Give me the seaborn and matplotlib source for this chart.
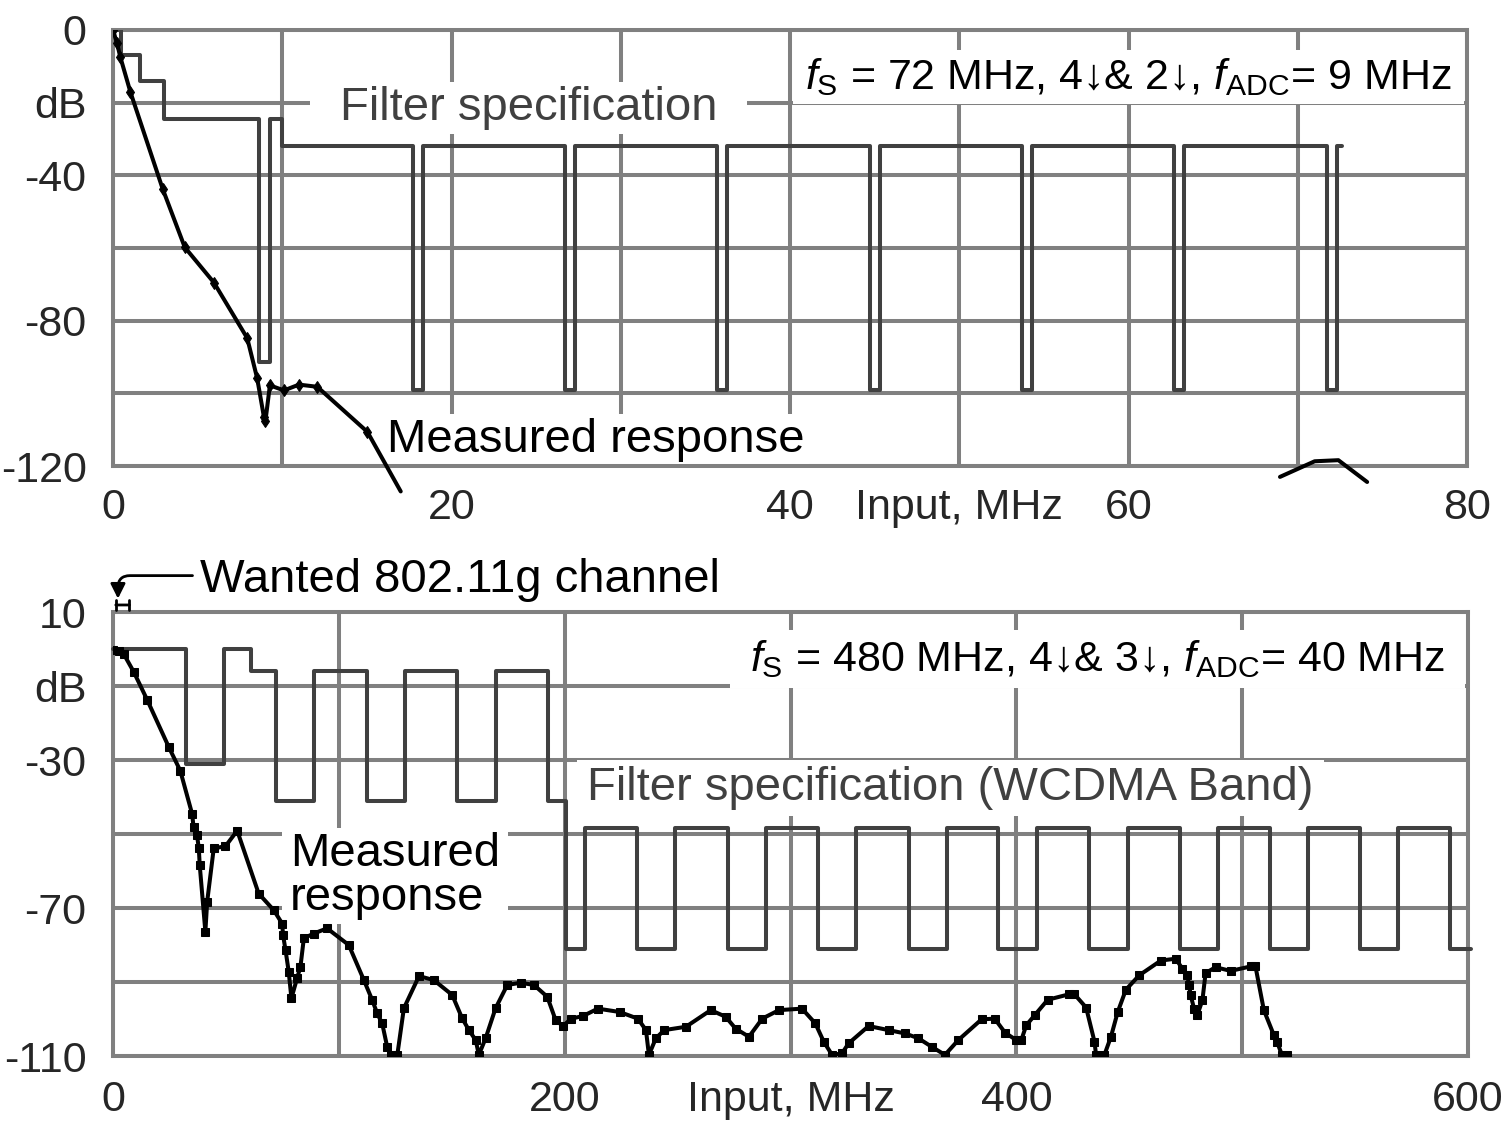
import seaborn as sns
import matplotlib.pyplot as plt

sns.set_style("white")
plt.rcParams['font.family'] = ['Liberation Sans', 'DejaVu Sans']
plt.rcParams['mathtext.fontset'] = 'custom'
plt.rcParams['mathtext.rm'] = 'Liberation Sans'
plt.rcParams['mathtext.it'] = 'Liberation Sans:italic'

GRID = '#808080'
SPEC = '#404040'

# ---- top panel data (fs = 72 MHz) ----
top_spec_edges = [0, 0.5, 1.6, 3.0, 8.65, 9.25, 10.0, 17.75, 18.3, 26.7, 27.3, 35.7, 36.3,
                  44.7, 45.3, 53.7, 54.3, 62.7, 63.3, 71.7, 72.3, 72.6]
top_spec_levels = [0, -7, -14, -24.5, -91.5, -24.5, -32, -99, -32, -99, -32, -99, -32,
                   -99, -32, -99, -32, -99, -32, -99, -32, -32]

top_meas_x = [0.0, 0.24, 0.43, 1.03, 2.94, 4.24, 5.96, 7.93, 8.52, 8.92, 9.01, 9.27,
              10.1, 10.99, 12.07, 15.03]
top_meas_y = [0, -3.7, -7.4, -17.1, -43.8, -59.8, -69.5, -84.8, -95.9, -106.6, -107.5, -97.8,
              -99.2, -97.6, -98.2, -110.6]
top_end_x = [15.03, 17.0]
top_end_y = [-110.6, -127.0]
top_tail_x = [68.95, 71.0, 72.4, 74.1]
top_tail_y = [-123.0, -118.7, -118.4, -124.4]

top_xticks = [0, 10, 20, 30, 40, 50, 60, 70, 80]
top_xlabels = ['0', '', '20', '', '40', 'Input, MHz', '60', '', '80']
top_yticks = [0, -20, -40, -60, -80, -100, -120]
top_ylabels = ['0', 'dB', '-40', '', '-80', '', '-120']

# ---- bottom panel data (fs = 480 MHz) ----
bot_spec_edges = [0, 32.5, 49, 61, 72.2, 89.2, 112.4, 129.4, 152.4, 169.4, 192.4, 200.8,
                  209, 232, 249, 272.5, 289, 312.3, 329, 352.3, 369.4, 392, 409.2, 432,
                  449.6, 472.4, 489.5, 512.3, 529.3, 552.1, 569.2, 592, 601.4]
bot_spec_levels = [0, -31, 0, -6, -41, -6, -41, -6, -41, -6, -41, -81,
                   -48.5, -81, -48.5, -81, -48.5, -81, -48.5, -81, -48.5, -81, -48.5, -81,
                   -48.5, -81, -48.5, -81, -48.5, -81, -48.5, -81, -81]

bot_meas_x = [0, 2.5, 4.7, 9.2, 15.1, 24.7, 29.8, 35.0, 35.7, 37.2, 38.0, 38.4, 40.9, 41.7,
              44.6, 49.8, 55.0, 64.5, 71.2, 74.9, 75.3, 76.4, 77.8, 79.0, 81.5, 83.0, 84.5,
              88.9, 94.8, 104.4, 111.1, 114.8, 117.0, 119.2, 121.4, 122.9, 125.9, 128.8,
              135.5, 142.1, 150.2, 154.6, 157.6, 160.6, 162.0, 165.0, 169.4, 174.6, 180.5,
              186.4, 192.3, 196.0, 199.3, 202.9, 208.1, 214.7, 224.3, 232.4, 236.0, 237.3,
              240.4, 244.1, 253.7, 264.7, 271.3, 275.7, 281.6, 287.5, 294.9, 305.1, 311.0,
              314.7, 318.4, 322.8, 325.7, 334.6, 343.4, 350.7, 356.6, 362.5, 368.4, 374.3,
              384.6, 390.4, 395.0, 400.0, 402.2, 404.4, 408.1, 413.9, 423.5, 425.7, 430.9,
              434.6, 435.3, 439.0, 441.9, 444.9, 448.5, 454.4, 464.0, 470.6, 473.5, 475.7,
              476.5, 477.2, 478.7, 480.1, 482.4, 483.8, 488.2, 494.9, 503.7, 505.9, 509.6,
              514.0, 515.4, 517.6, 519.9]
bot_meas_y = [-0.2, -0.5, -1.3, -6.2, -13.7, -26.5, -32.9, -44.5, -48.2, -50.3, -53.9, -58.4,
              -76.4, -68.3, -53.9, -53.3, -49.1, -66.1, -70.6, -74.2, -77.3, -81.4, -87.2,
              -94.4, -89.0, -85.9, -78.2, -76.9, -75.5, -80.0, -89.5, -94.9, -98.5, -101.2,
              -107.5, -109.7, -109.7, -97.1, -88.4, -89.5, -93.5, -99.8, -103.0, -105.7,
              -109.7, -105.2, -97.1, -90.8, -90.2, -90.8, -94.0, -100.3, -101.9, -99.9, -99.2,
              -97.2, -98.1, -99.9, -103.0, -109.7, -105.2, -103.0, -102.1, -97.6, -99.4,
              -102.6, -104.8, -99.9, -97.6, -97.2, -101.2, -106.1, -109.7, -109.3, -106.6,
              -101.9, -103.0, -103.9, -105.2, -107.5, -109.7, -105.7, -100.1, -99.9, -103.7,
              -105.7, -105.7, -101.7, -99.0, -94.8, -93.3, -93.3, -96.9, -106.1, -109.7,
              -109.7, -104.8, -98.1, -92.1, -88.2, -84.2, -83.7, -86.4, -88.2, -90.9, -93.6,
              -97.2, -99.0, -94.9, -87.6, -86.0, -87.0, -85.8, -85.8, -97.6, -104.3, -106.1,
              -109.7, -109.7]

wanted_band = [0, 8.5]

bot_xticks = [0, 100, 200, 300, 400, 500, 600]
bot_xlabels = ['0', '', '200', 'Input, MHz', '400', '', '600']
bot_yticks = [10, -10, -30, -50, -70, -90, -110]
bot_ylabels = ['10', 'dB', '-30', '', '-70', '', '-110']

TICK_FS = 31
NOTE_FS = 34
FS_FS = 31
LW = 2.9


def style(ax, xlim, ylim, xt, xl, yt, yl, xlen, ylen, xpad, ypad):
    ax.set_xlim(xlim)
    ax.set_ylim(ylim)
    ax.set_xticks(xt, xl)
    ax.set_yticks(yt, yl)
    for s in ax.spines.values():
        s.set_color(GRID)
        s.set_linewidth(LW)
    ax.grid(True, color=GRID, lw=LW)
    ax.set_axisbelow(True)
    ax.tick_params(axis='x', length=xlen, width=LW, color=GRID, labelsize=TICK_FS, pad=xpad)
    ax.tick_params(axis='y', length=ylen, width=LW, color=GRID, labelsize=TICK_FS, pad=ypad)
    ax.set_xlabel('')
    ax.set_ylabel('')


def boxed(ax, x, y, s, hpad, vpad, fs=NOTE_FS, **kw):
    # white box behind the note so the grid is broken there, as in the original
    px = fs * 100 / 72
    ax.text(x, y, s, fontsize=fs, zorder=2,
            bbox=dict(boxstyle=f'square,pad={hpad / px:.3f}', fc='white', ec='none',
                      mutation_aspect=vpad / hpad), **kw)


fig = plt.figure(figsize=(15.11, 11.22), dpi=100)
ax1 = fig.add_axes([113 / 1511, 1 - 466 / 1122, 1354 / 1511, 436 / 1122])
ax2 = fig.add_axes([113 / 1511, 1 - 1056 / 1122, 1355 / 1511, 444 / 1122])

# top panel
sns.lineplot(x=top_spec_edges, y=top_spec_levels, estimator=None, sort=False,
             drawstyle='steps-post', color=SPEC, lw=LW, ax=ax1, zorder=3)
sns.lineplot(x=top_meas_x, y=top_meas_y, estimator=None, sort=False, color='black', lw=LW,
             marker='d', markersize=6, markeredgecolor='black', ax=ax1, zorder=4)
sns.lineplot(x=top_end_x, y=top_end_y, estimator=None, sort=False, color='black',
             lw=LW, ax=ax1, zorder=4, clip_on=False)
sns.lineplot(x=top_tail_x, y=top_tail_y, estimator=None, sort=False, color='black', lw=LW,
             ax=ax1, zorder=4, clip_on=False)
style(ax1, (0, 80), (-120, 0), top_xticks, top_xlabels, top_yticks, top_ylabels,
      6, 11, 10, 8)

boxed(ax1, 13.4, -24.8, 'Filter specification', 30, 4, color=SPEC, ha='left', va='baseline')
boxed(ax1, 79.1, -16.2, r'$f_{\rm S}$ = 72 MHz, 4↓& 2↓, $f_{\rm ADC}$= 9 MHz', 12, 6,
      fs=FS_FS, color='black', ha='right', va='baseline')
boxed(ax1, 16.2, -116.2, 'Measured response', 4, 4, color='black', ha='left', va='baseline')

# bottom panel
sns.lineplot(x=bot_spec_edges, y=bot_spec_levels, estimator=None, sort=False,
             drawstyle='steps-post', color=SPEC, lw=LW, ax=ax2, zorder=3, clip_on=False)
sns.lineplot(x=bot_meas_x, y=bot_meas_y, estimator=None, sort=False, color='black', lw=LW,
             marker='s', markersize=6, markeredgecolor='black', ax=ax2, zorder=4)
style(ax2, (0, 600), (-110, 10), bot_xticks, bot_xlabels, bot_yticks, bot_ylabels,
      2, 7, 15, 12)

boxed(ax2, 590, -5.9, r'$f_{\rm S}$ = 480 MHz, 4↓& 3↓, $f_{\rm ADC}$= 40 MHz', 20, 8,
      fs=FS_FS, color='black', ha='right', va='baseline')
boxed(ax2, 210, -40.7, 'Filter specification (WCDMA Band)', 10, 6, color=SPEC,
      ha='left', va='baseline')
boxed(ax2, 78.4, -61.3, 'Measured\nresponse', 8, 4, color='black', ha='left', va='center',
      linespacing=1.0)

# wanted channel marker above the bottom panel
ax2.annotate('', xy=(wanted_band[0], 11.9), xytext=(wanted_band[1], 11.9),
             arrowprops=dict(arrowstyle='|-|, widthA=0.35, widthB=0.35', lw=2, color='black'),
             annotation_clip=False)
ax2.annotate('Wanted 802.11g channel', xy=(2.2, 13.6), xytext=(38.5, 15.4),
             fontsize=NOTE_FS, color='black', ha='left', va='baseline', annotation_clip=False,
             arrowprops=dict(arrowstyle='-|>', lw=2, color='black', mutation_scale=22,
                             connectionstyle='angle,angleA=0,angleB=90,rad=12',
                             relpos=(0, 0.6), shrinkA=3, shrinkB=0))

fig.savefig('out.png', dpi=100)
